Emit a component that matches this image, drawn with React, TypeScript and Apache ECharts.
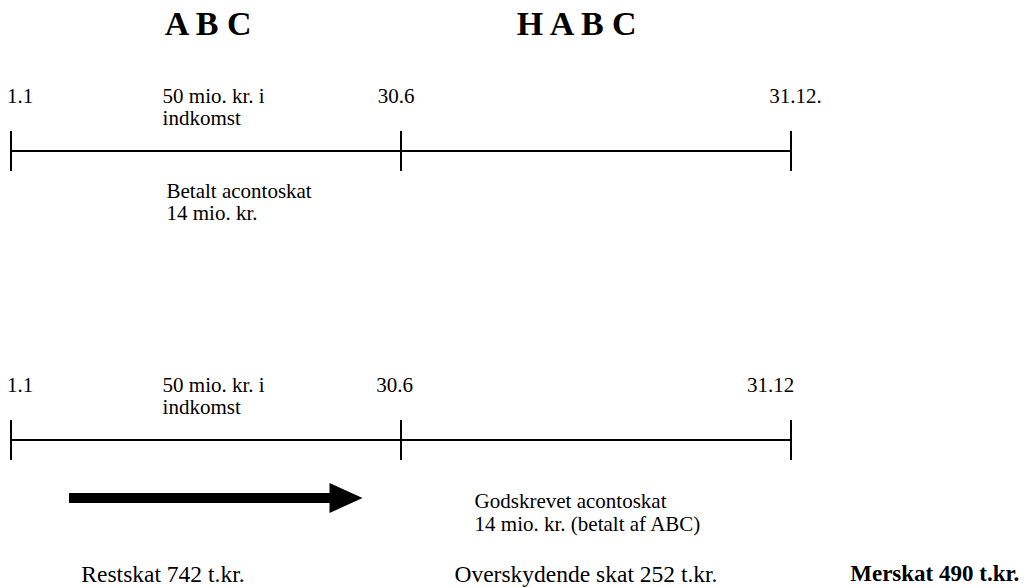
import React, { useEffect, useRef } from "react";
import * as echarts from "echarts";

// ---- content ----
const companies = ["A B C", "H A B C"];
const dateMonths = [0, 6, 12];
const upperDates = ["1.1", "30.6", "31.12."];
const lowerDates = ["1.1", "30.6", "31.12"];
const incomeText = "50 mio. kr. i\nindkomst";
const paidText = "Betalt acontoskat\n14 mio. kr.";
const creditedText = "Godskrevet acontoskat\n14 mio. kr. (betalt af ABC)";
const results = ["Restskat 742 t.kr.", "Overskydende skat 252 t.kr.", "Merskat 490 t.kr."];

// ---- layout (x in months on the timeline axis, y in page rows) ----
const FONT = "Liberation Serif, DejaVu Serif, serif";
const INK = "#000000";
const UPPER_Y = 151;
const LOWER_Y = 440;
const LABEL_GAP = 55;
const upperOffsets = [9.5, -4.5, 5];
const lowerOffsets = [9.5, -6, -20];

function textSeries(items: any[], style: any) {
  return {
    type: "scatter",
    silent: true,
    symbolSize: 1,
    itemStyle: { color: "rgba(0,0,0,0)", opacity: 1 },
    data: items.map((it) => ({
      value: it.value,
      name: it.text,
      label: it.label || {},
    })),
    label: {
      show: true,
      position: [0, 0],
      formatter: (p: any) => p.name,
      fontFamily: FONT,
      color: INK,
      opacity: 1,
      textBorderWidth: 0,
      fontSize: 21,
      lineHeight: 22,
      align: "left",
      verticalAlign: "middle",
      ...style,
    },
  };
}

export default function App() {
  const ref = useRef<HTMLDivElement>(null);
  useEffect(() => {
    if (!ref.current) return;
    const chart = echarts.init(ref.current, null, { renderer: "svg" });
    const lineStyle = { color: INK, width: 2 };
    const option: any = {
      animation: false,
      backgroundColor: "#ffffff",
      textStyle: { fontFamily: FONT },
      grid: { left: 0, right: 0, top: 0, bottom: 0 },
      xAxis: { type: "value", min: -11 / 65, max: 1013 / 65, show: false },
      yAxis: { type: "value", min: 0, max: 587, inverse: true, show: false },
      series: [
        // timelines
        {
          type: "line",
          silent: true,
          symbol: "none",
          lineStyle,
          data: [[dateMonths[0], UPPER_Y], [dateMonths[2], UPPER_Y]],
        },
        {
          type: "line",
          silent: true,
          symbol: "none",
          lineStyle,
          data: [[dateMonths[0], LOWER_Y], [dateMonths[2], LOWER_Y]],
        },
        // tick marks
        {
          type: "scatter",
          silent: true,
          symbol: "rect",
          symbolSize: [2, 40],
          itemStyle: { color: INK, opacity: 1 },
          data: dateMonths.flatMap((m) => [[m, UPPER_Y], [m, LOWER_Y]]),
        },
        // arrow shaft + head
        {
          type: "line",
          silent: true,
          symbol: "none",
          lineStyle: { color: "#000", width: 10 },
          data: [[0.892, 498], [5.154, 498]],
        },
        {
          type: "scatter",
          silent: true,
          symbol: "triangle",
          symbolRotate: -90,
          symbolSize: [30, 33],
          itemStyle: { color: "#000", opacity: 1 },
          data: [[5.154, 498]],
        },
        // titles
        textSeries(
          [
            { value: [3.04, 24], text: companies[0] },
            { value: [8.71, 24], text: companies[1] },
          ],
          { fontSize: 34, fontWeight: "bold", align: "center" }
        ),
        // date labels
        textSeries(
          [
            ...upperDates.map((t, i) => ({
              value: [dateMonths[i], UPPER_Y - LABEL_GAP],
              text: t,
              label: { offset: [upperOffsets[i], 0] },
            })),
            ...lowerDates.map((t, i) => ({
              value: [dateMonths[i], LOWER_Y - LABEL_GAP],
              text: t,
              label: { offset: [lowerOffsets[i], 0] },
            })),
          ],
          { align: "center" }
        ),
        // annotations
        textSeries(
          [
            { value: [2.34, UPPER_Y - LABEL_GAP + 11], text: incomeText },
            { value: [2.34, LOWER_Y - LABEL_GAP + 11], text: incomeText },
            { value: [2.4, 202.5], text: paidText },
            { value: [7.14, 512.5], text: creditedText, label: { lineHeight: 23 } },
          ],
          {}
        ),
        // results
        textSeries(
          [
            { value: [1.09, 574], text: results[0] },
            { value: [6.83, 574], text: results[1] },
            {
              value: [15.52, 574],
              text: results[2],
              label: { align: "right", fontWeight: "bold", fontSize: 23 },
            },
          ],
          { fontSize: 23.5 }
        ),
      ],
    };
    chart.setOption(option);
    return () => chart.dispose();
  }, []);
  return (
    <div
      ref={ref}
      style={{
        position: "fixed",
        left: 0,
        top: 0,
        width: 1024,
        height: 587,
        background: "#fff",
      }}
    />
  );
}
